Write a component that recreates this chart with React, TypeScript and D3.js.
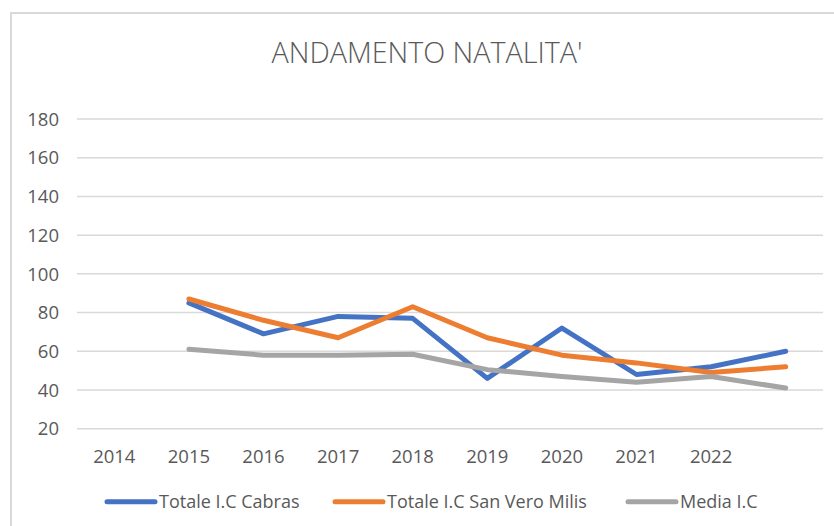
import React from "react";
import * as d3 from "d3";

const title = "ANDAMENTO NATALITA'";
const categories = ["2014", "2015", "2016", "2017", "2018", "2019", "2020", "2021", "2022", "2023"];
const tickLabels = ["2014", "2015", "2016", "2017", "2018", "2019", "2020", "2021", "2022", ""];
const yTicks = [20, 40, 60, 80, 100, 120, 140, 160, 180];

const cabras: (number | null)[] = [null, 85, 69, 78, 77, 46, 72, 48, 52, 60];
const sanVeroMilis: (number | null)[] = [null, 87, 76, 67, 83, 67, 58, 54, 49, 52];
const mediaIC: (number | null)[] = [null, 61, 58, 58, 58.5, 50.5, 47, 44, 47, 41];

const seriesNames = ["Totale I.C Cabras", "Totale I.C San Vero Milis", "Media I.C"];
const seriesColors = ["#4472C4", "#ED7D31", "#A5A5A5"];

const W = 834;
const H = 526;
const FONT = "'Open Sans', 'Liberation Sans', sans-serif";

export default function App() {
  const x = d3.scaleBand<string>().domain(categories).range([77, 823]);
  const y = d3.scaleLinear().domain([20, 180]).range([428.7, 119]);
  const cx = (c: string) => (x(c) ?? 0) + x.bandwidth() / 2;

  const seriesData = [cabras, sanVeroMilis, mediaIC];
  const line = d3
    .line<number | null>()
    .defined((d) => d !== null)
    .x((_, i) => cx(categories[i]))
    .y((d) => y(d as number));

  // legend layout (line start offsets)
  const legendX = [107, 335, 628];
  const legendY = 501.7;

  return (
    <svg
      width={W}
      height={H}
      style={{ position: "absolute", left: 0, top: 0, background: "#fff" }}
      fontFamily={FONT}
    >
      <rect x={0} y={0} width={W} height={H} fill="#fff" />
      <rect x={11} y={13} width={W + 20} height={H + 20} fill="#fff" stroke="#d9d9d9" strokeWidth={2} />
      <text
        x={427}
        y={62.5}
        textAnchor="middle"
        fontSize={29}
        fontWeight={300}
        fill="#595959"
        textLength={311}
        lengthAdjust="spacingAndGlyphs"
      >
        {title}
      </text>
      {yTicks.map((t) => (
        <g key={t}>
          <line x1={77} x2={823} y1={y(t)} y2={y(t)} stroke="#d9d9d9" strokeWidth={1.5} />
          <text x={59} y={y(t)} dy="0.36em" textAnchor="end" fontSize={18.5} fill="#595959">
            {t}
          </text>
        </g>
      ))}
      {categories.map((c, i) => (
        <text key={c} x={cx(c)} y={462.5} textAnchor="middle" fontSize={18.5} fill="#595959">
          {tickLabels[i]}
        </text>
      ))}
      {seriesData.map((s, i) => (
        <path
          key={i}
          d={line(s) ?? ""}
          fill="none"
          stroke={seriesColors[i]}
          strokeWidth={5}
          strokeLinejoin="round"
          strokeLinecap="round"
        />
      ))}
      {seriesNames.map((n, i) => (
        <g key={n}>
          <line
            x1={legendX[i]}
            x2={legendX[i] + 48}
            y1={legendY}
            y2={legendY}
            stroke={seriesColors[i]}
            strokeWidth={5}
            strokeLinecap="round"
          />
          <text x={legendX[i] + 52} y={legendY} dy="0.36em" fontSize={18} fill="#595959">
            {n}
          </text>
        </g>
      ))}
    </svg>
  );
}
